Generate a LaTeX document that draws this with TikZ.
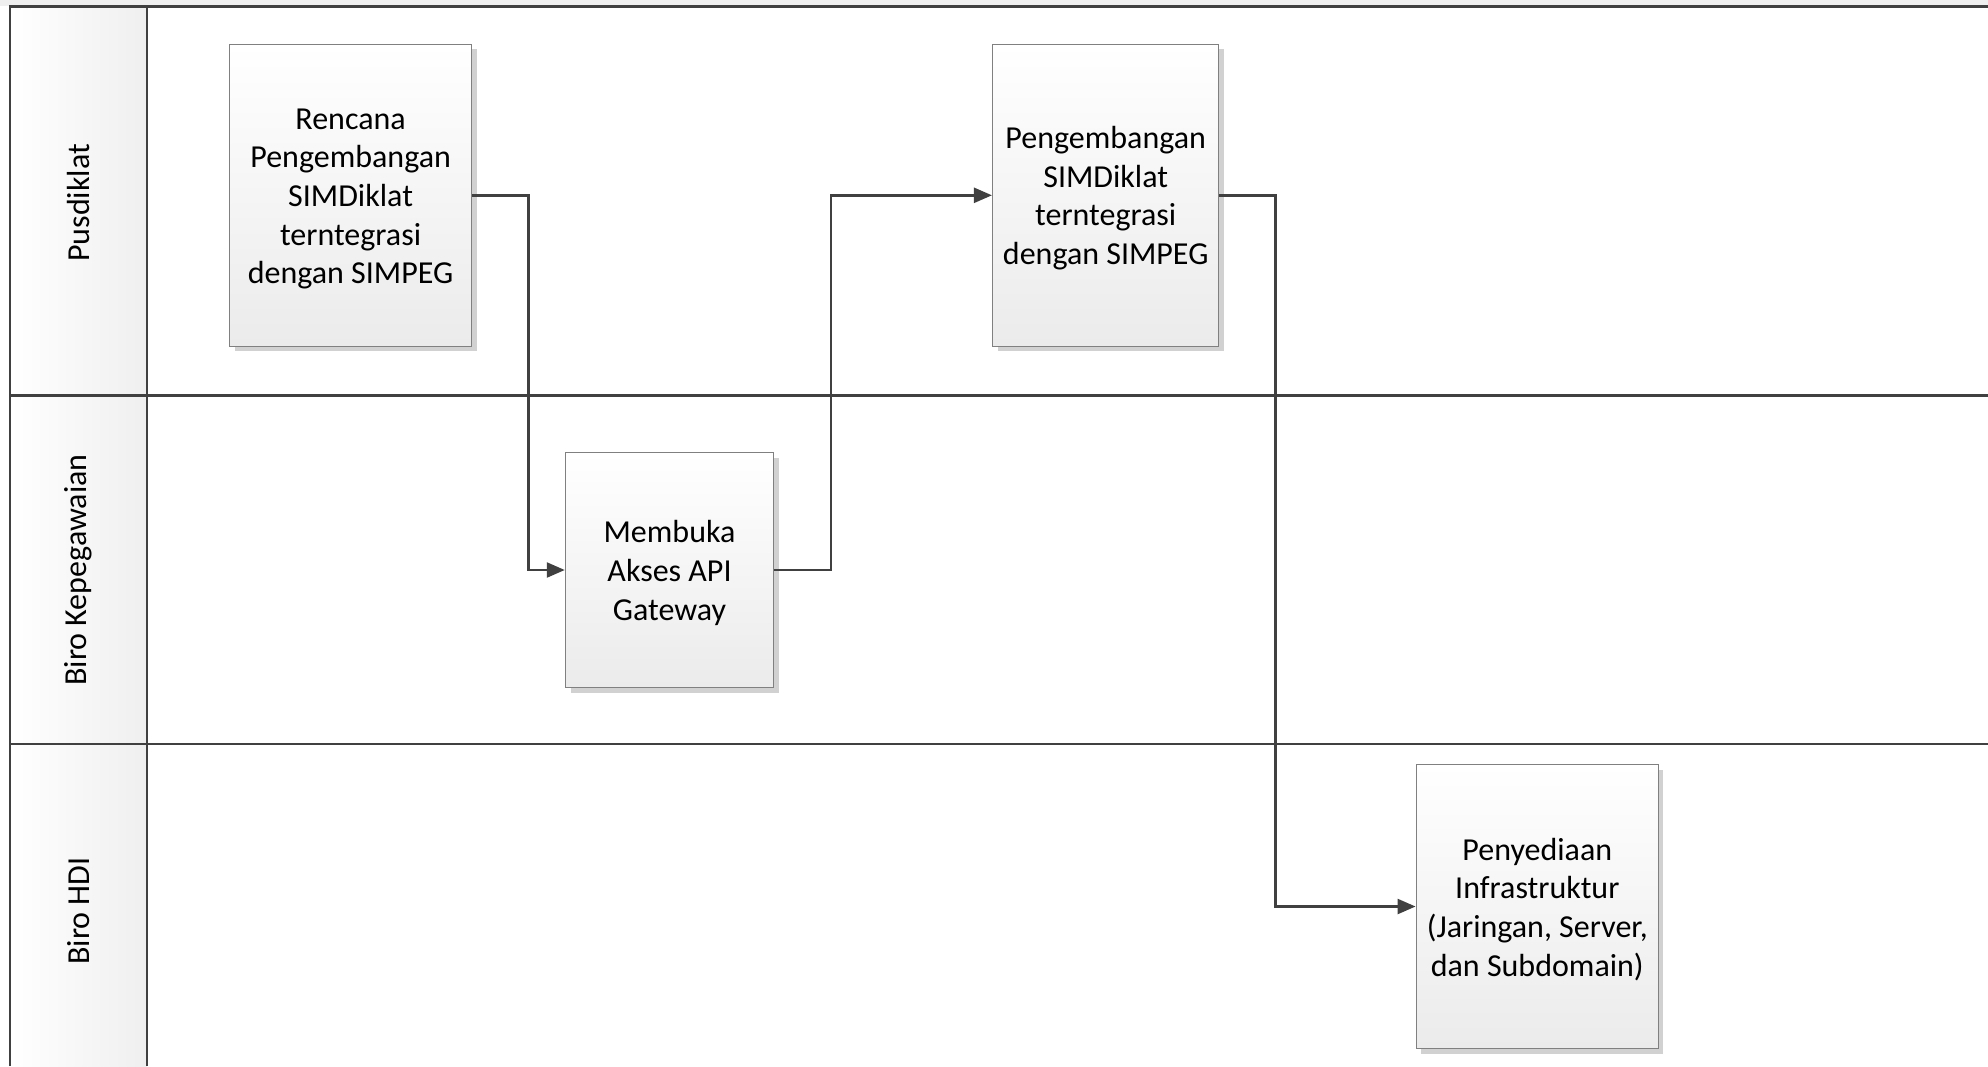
\documentclass[tikz,border=0pt]{standalone}
\usepackage{fontspec}
\setmainfont{Carlito}
\usetikzlibrary{arrows.meta,shadows}
\definecolor{lanecol}{HTML}{404040}
\definecolor{boxborder}{HTML}{808080}
\definecolor{boxbottom}{HTML}{EBEBEB}
\definecolor{bandgray}{HTML}{EFEFEF}
\definecolor{headgray}{HTML}{EFEFEF}
\newcommand{\toplinestrut}{\rule{0pt}{28pt}}
\tikzset{
  laneline/.style={draw=lanecol, line width=2.4pt},
  lanelabel/.style={rotate=90, font=\fontsize{32}{38}\selectfont, text=black},
  procbox/.style={rectangle, draw=boxborder, line width=1.5pt, top color=white, bottom color=boxbottom,
    align=center, font=\fontsize{32}{38.7}\selectfont, inner sep=0pt,
    drop shadow={shadow xshift=5pt, shadow yshift=-5pt, fill=black!18, opacity=1}},
  conn/.style={draw=lanecol, line width=2.4pt, -{Triangle[length=18pt,width=15pt]}}
}
\begin{document}
\begin{tikzpicture}[x=1pt,y=-1pt]
\useasboundingbox (0,0) rectangle (1988,1066);
% top band
\fill[bandgray] (0,0) rectangle (1988,6.3);
% header column gradient
\shade[left color=white, right color=headgray] (10,6.3) rectangle (147,1066);
% lane lines
\draw[laneline] (10,1066) -- (10,6.3) -- (1988,6.3);
\draw[laneline] (147,6.3) -- (147,1066);
\draw[laneline] (10,395.6) -- (1988,395.6);
\draw[laneline] (10,744) -- (1988,744);
% lane labels
\node[lanelabel] (l1) at (78.6,203) {Pusdiklat};
\node[lanelabel] (l2) at (78.6,570) {Biro Kepegawaian};
\node[lanelabel] (l3) at (78.6,911) {Biro HDI};
% boxes
\node[procbox, minimum width=242pt, minimum height=302pt] (b1) at (350.6,195.3)
  {\toplinestrut Rencana\\Pengembangan\\SIMDiklat\\terntegrasi\\dengan SIMPEG};
\node[procbox, minimum width=208pt, minimum height=235pt] (b2) at (669.5,570)
  {\toplinestrut Membuka\\Akses API\\Gateway};
\node[procbox, minimum width=226pt, minimum height=302pt] (b3) at (1105.7,195.3)
  {\toplinestrut Pengembangan\\SIMDiklat\\terntegrasi\\dengan SIMPEG};
\node[procbox, minimum width=242pt, minimum height=284pt] (b4) at (1537.3,906.5)
  {\toplinestrut Penyediaan\\Infrastruktur\\(Jaringan, Server,\\dan Subdomain)};
% connectors
\draw[conn] (b1.east) -- ++(56,0) |- (b2.west);
\draw[conn] (b2.east) -- ++(57,0) |- (b3.west);
\draw[conn] (b3.east) -- ++(56,0) |- (b4.west);
\end{tikzpicture}
\end{document}
